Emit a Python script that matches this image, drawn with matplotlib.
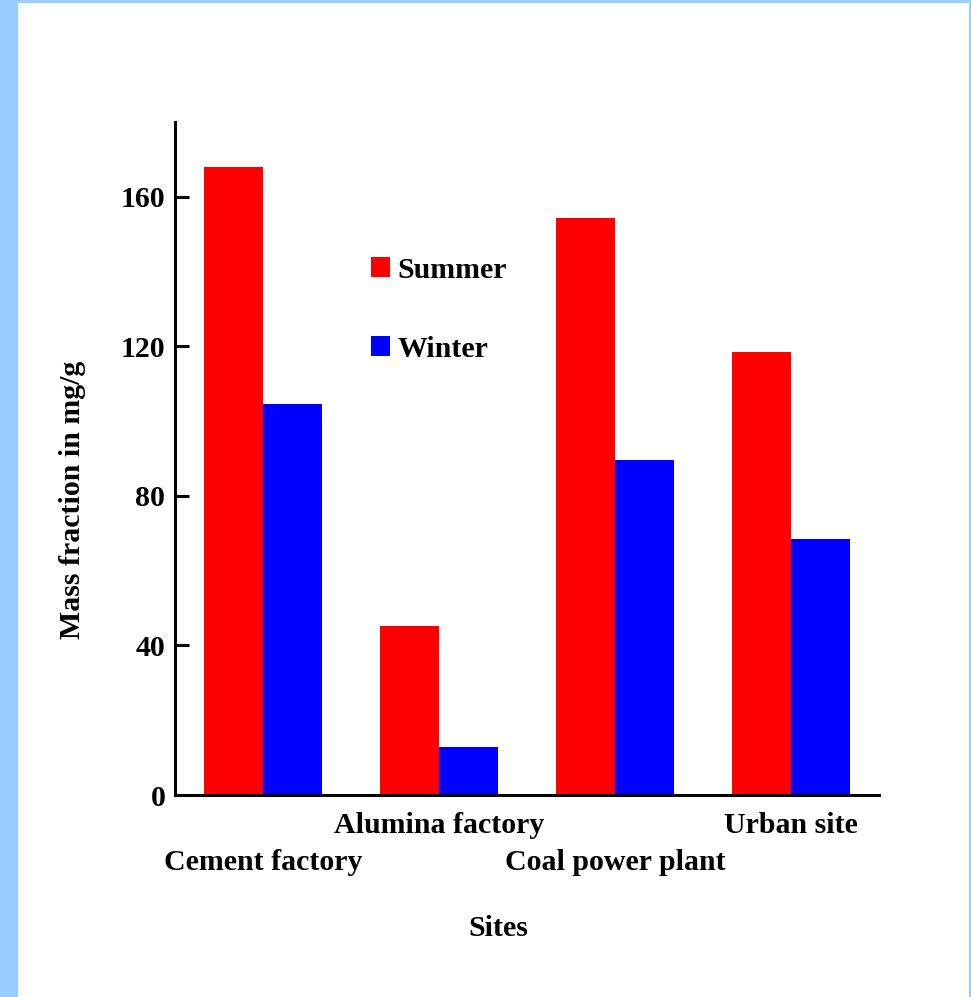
import numpy as np
import matplotlib
matplotlib.use("Agg")
import matplotlib.pyplot as plt
from matplotlib.patches import Rectangle, Patch

# Data
sites = ['Cement factory', 'Alumina factory', 'Coal power plant', 'Urban site']
summer = [168, 45.3, 154.4, 118.6]
winter = [104.7, 12.8, 89.5, 68.6]
y_ticks = [0, 40, 80, 120, 160]

plt.rcParams['font.family'] = ['Liberation Serif', 'DejaVu Serif']
plt.rcParams['font.weight'] = 'bold'

fig = plt.figure(figsize=(9.71, 9.97), dpi=100)
fig.patch.set_facecolor('#99CCFF')

# white page inside the light blue frame
W, H = 971, 997
fig.add_artist(Rectangle((18 / W, 0), (969 - 18) / W, (H - 3) / H,
                         transform=fig.transFigure, facecolor='white',
                         edgecolor='none', zorder=0))

ax = fig.add_axes([175 / W, 1 - 795 / H, (879 - 175) / W, (795 - 122) / H])
ax.patch.set_alpha(0)

x = np.arange(len(sites))
width = 1 / 3
ax.bar(x - width / 2, summer, width, color='#FF0000', label='Summer')
ax.bar(x + width / 2, winter, width, color='#0000FF', label='Winter')

ax.set_xlim(-0.5, 3.5)
ax.set_ylim(0, 180)
ax.set_yticks(y_ticks)
ax.tick_params(axis='y', direction='in', length=10, width=2.2,
               labelsize=21.5, pad=7)
ax.set_xticks([])

for s in ['top', 'right']:
    ax.spines[s].set_visible(False)
for s in ['left', 'bottom']:
    ax.spines[s].set_linewidth(2.2)

# staggered site labels
for i, name in enumerate(sites):
    y = -0.101 if i % 2 == 0 else -0.045
    ax.text(i, y, name, transform=ax.get_xaxis_transform(),
            ha='center', va='center', fontsize=21.5, fontweight='bold')

fig.text(498 / W, 1 - 928 / H, 'Sites', ha='center', va='center',
         fontsize=21.5, fontweight='bold')
fig.text(73 / W, 1 - 500 / H, 'Mass fraction in mg/g', ha='center',
         va='center', rotation=90, fontsize=21.5, fontweight='bold')

handles = [Patch(facecolor='#FF0000', label='Summer'),
           Patch(facecolor='#0000FF', label='Winter')]
ax.legend(handles=handles, loc='upper left', bbox_to_anchor=(0.24, 0.84),
          frameon=False, fontsize=21.5, handlelength=0.65, handleheight=0.65,
          handletextpad=0.25, labelspacing=1.75)

fig.savefig('out.png', dpi=100, facecolor=fig.get_facecolor())
